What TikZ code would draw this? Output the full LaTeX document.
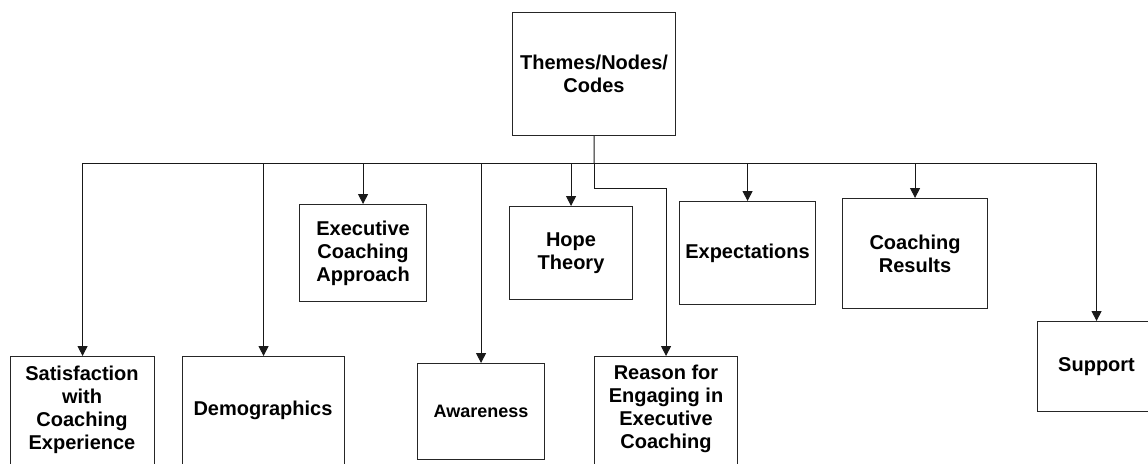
\documentclass[tikz,border=0pt]{standalone}
\usepackage{fontspec}
\setmainfont{Liberation Sans}
\usetikzlibrary{arrows.meta}
\begin{document}
\begin{tikzpicture}[x=1pt,y=-1pt,
  box/.style={draw=black!85, line width=1.1pt, inner sep=0pt, anchor=north west, align=center,
              font=\fontsize{20}{23}\selectfont\bfseries},
  lbl/.style={inner sep=0pt, align=center, font=\fontsize{20}{23}\selectfont\bfseries},
  conn/.style={draw=black!90, line width=1pt},
  arr/.style={conn, -{Triangle[length=10pt,width=10pt]}}]
\useasboundingbox (0,0) rectangle (1148,463);
\clip (0,0) rectangle (1148,463);

\node[box, minimum width=163pt, minimum height=123pt] (top) at (512,12) {Themes/Nodes/\\Codes};

\node[box, minimum width=144pt, minimum height=130pt] (sat) at (10,356) {};
\node[lbl] (satt) at (82,409.5) {Satisfaction\\with\\Coaching\\Experience};

\node[box, minimum width=162pt, minimum height=130pt] (demo) at (182,356) {};
\node[lbl] (demot) at (263,410) {Demographics};

\node[box, minimum width=127pt, minimum height=97pt] (exec) at (299,204) {Executive\\Coaching\\Approach};

\node[box, minimum width=127pt, minimum height=96pt, font=\fontsize{18}{21}\selectfont\bfseries] (aware) at (417,363) {Awareness};

\node[box, minimum width=123pt, minimum height=93pt] (hope) at (509,206) {Hope\\Theory};

\node[box, minimum width=143pt, minimum height=130pt] (reason) at (594,356) {};
\node[lbl] (reasont) at (666,409) {Reason for\\Engaging in\\Executive\\Coaching};

\node[box, minimum width=136pt, minimum height=103pt] (expect) at (679,201) {Expectations};

\node[box, minimum width=145pt, minimum height=110pt] (res) at (842,198) {Coaching\\Results};

\node[box, minimum width=118pt, minimum height=90pt] (sup) at (1037,321) {Support};

\coordinate (j) at (594,163);
\coordinate (r) at (594,188);

\draw[conn] (top.south) -- (j);
\draw[arr] (j) -| (sat);
\draw[arr] (j) -| (demo);
\draw[arr] (j) -| (exec);
\draw[arr] (j) -| (aware);
\draw[arr] (j) -| (hope);
\draw[arr] (j) -- (r) -| (reason);
\draw[arr] (j) -| (expect);
\draw[arr] (j) -| (res);
\draw[arr] (j) -| (sup);
\end{tikzpicture}
\end{document}
